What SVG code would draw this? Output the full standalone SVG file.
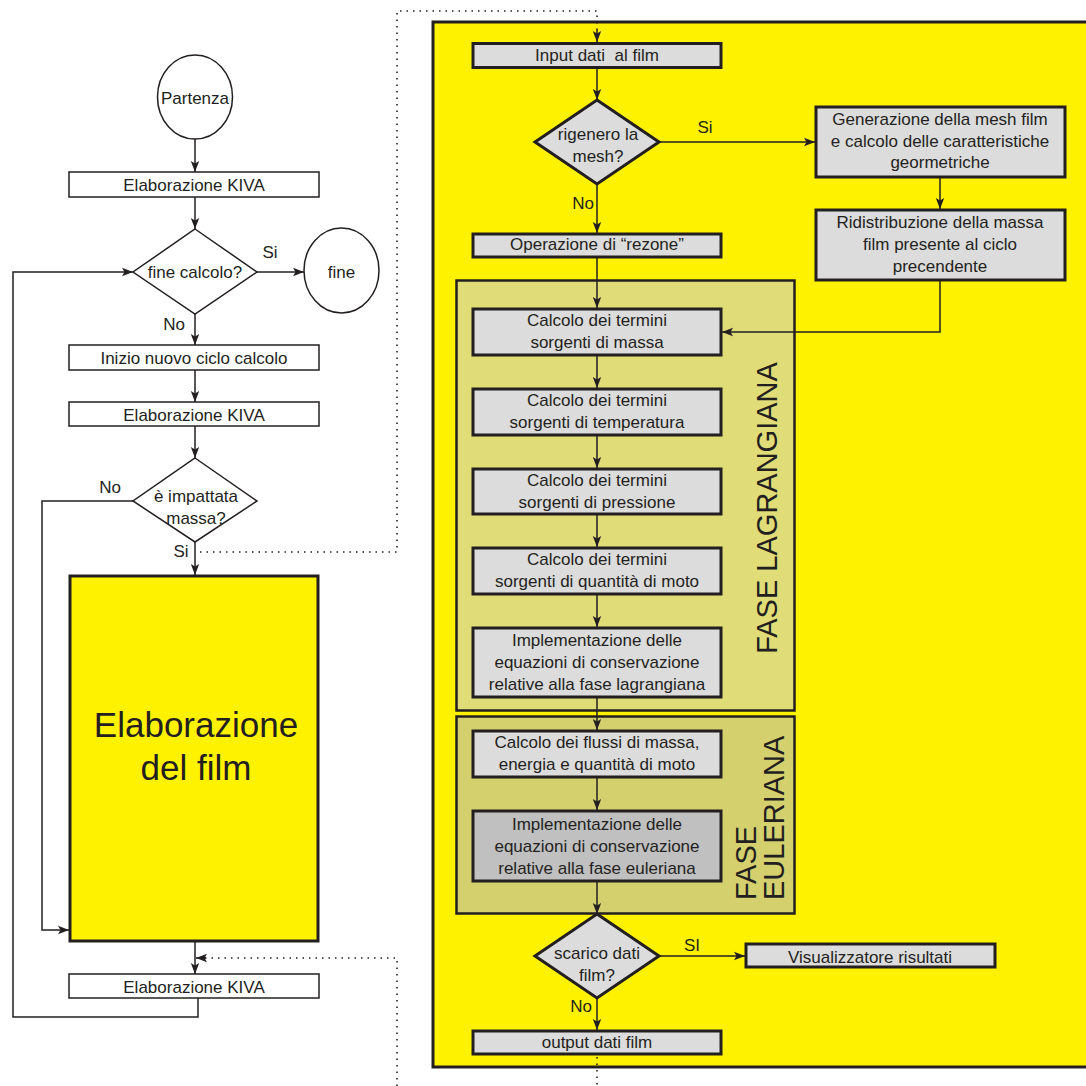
<svg xmlns="http://www.w3.org/2000/svg" width="1086" height="1086" viewBox="0 0 1086 1086">
<defs>
<marker id="ah" markerUnits="userSpaceOnUse" markerWidth="12" markerHeight="10" refX="11" refY="5" orient="auto">
<path d="M0,0.8 L11,5 L0,9.2 L2.5,5 z" fill="#231f20"/>
</marker>
</defs>
<style>
text{font-family:"Liberation Sans",Arial,sans-serif;font-size:17px;fill:#231f20;text-anchor:middle}
.wb{fill:#fff;stroke:#231f20;stroke-width:1.5}
.gb{fill:#dcdcdc;stroke:#231f20;stroke-width:3}
.ln{fill:none;stroke:#231f20;stroke-width:1.5}
.ar{fill:none;stroke:#231f20;stroke-width:1.5;marker-end:url(#ah)}
.dt{fill:none;stroke:#231f20;stroke-width:1.6;stroke-dasharray:1.5 5}
.ph{font-size:29px;text-anchor:middle}
.pre{white-space:pre}
</style>
<rect width="1086" height="1086" fill="#fff"/>

<g id="panel-film">
<rect x="433" y="22" width="660" height="1045" fill="#fff200" stroke="#231f20" stroke-width="3"/>
</g>
<g id="panel-lagrangiana">
<rect x="456.5" y="280.5" width="338" height="430" fill="#e0dc78" stroke="#231f20" stroke-width="2.5"/>
<text class="ph" transform="translate(777,508) rotate(-90)">FASE LAGRANGIANA</text>
</g>
<g id="panel-euleriana">
<rect x="456.5" y="716.5" width="338" height="197" fill="#d5d06e" stroke="#231f20" stroke-width="2.5"/>
<text class="ph" style="text-anchor:start" transform="translate(756,900) rotate(-90)">FASE</text>
<text class="ph" style="text-anchor:start" transform="translate(784,900) rotate(-90)">EULERIANA</text>
</g>

<g id="connectors">
<line class="ar" x1="195" y1="139" x2="195" y2="172"/>
<line class="ar" x1="195" y1="197" x2="195" y2="229"/>
<line class="ar" x1="257" y1="272" x2="304" y2="272"/>
<line class="ar" x1="195" y1="314" x2="195" y2="345"/>
<line class="ar" x1="195" y1="370" x2="195" y2="402"/>
<line class="ar" x1="195" y1="426" x2="195" y2="458"/>
<line class="ar" x1="195" y1="542" x2="195" y2="575"/>
<polyline class="ar" points="133,501 42,501 42,930 69,930"/>
<line class="ar" x1="195" y1="942" x2="195" y2="974"/>
<polyline class="ar" points="198,998 198,1017 13,1017 13,272 133,272"/>
<polyline class="dt" points="200,552 397,552 397,11 597,11 597,32"/>
<line class="ar" x1="597" y1="30" x2="597" y2="42"/>
<polyline class="dt" points="397,1086 397,958 205,958"/>
<line class="ar" x1="206" y1="958" x2="196" y2="958"/>
<line class="dt" x1="597" y1="1057" x2="597" y2="1086"/>

<line class="ar" x1="597" y1="68" x2="597" y2="100"/>
<line class="ar" x1="659" y1="142" x2="815" y2="142"/>
<line class="ar" x1="940" y1="178" x2="940" y2="209"/>
<polyline class="ar" points="940,281 940,332 722,332"/>
<line class="ar" x1="597" y1="184" x2="597" y2="233"/>
<line class="ar" x1="597" y1="258" x2="597" y2="308"/>
<line class="ar" x1="597" y1="356" x2="597" y2="388"/>
<line class="ar" x1="597" y1="436" x2="597" y2="468"/>
<line class="ar" x1="597" y1="515" x2="597" y2="547"/>
<line class="ar" x1="597" y1="595" x2="597" y2="627"/>
<line class="ar" x1="597" y1="698" x2="597" y2="730"/>
<line class="ar" x1="597" y1="778" x2="597" y2="810"/>
<line class="ar" x1="597" y1="882" x2="597" y2="914"/>
<line class="ar" x1="659" y1="956" x2="745" y2="956"/>
<line class="ar" x1="597" y1="998" x2="597" y2="1030"/>
</g>

<g id="labels">
<text x="270" y="258">Si</text>
<text x="174" y="330">No</text>
<text x="110" y="493">No</text>
<text x="181" y="557">Si</text>
<text x="705" y="133">Si</text>
<text x="583" y="209">No</text>
<text x="692" y="951">SI</text>
<text x="581" y="1012">No</text>
</g>

<g id="partenza">
<ellipse class="wb" cx="195" cy="97" rx="37.5" ry="42"/>
<text x="195" y="104">Partenza</text>
</g>
<g id="kiva1">
<rect class="wb" x="69" y="172" width="250" height="25"/>
<text x="194" y="191">Elaborazione KIVA</text>
</g>
<g id="fine-calcolo">
<polygon class="wb" points="195,229 257,272 195,314 133,272"/>
<text x="195" y="278">fine calcolo?</text>
</g>
<g id="fine">
<ellipse class="wb" cx="341.5" cy="270.5" rx="37.5" ry="42.5"/>
<text x="341.5" y="278">fine</text>
</g>
<g id="inizio">
<rect class="wb" x="69" y="345" width="250" height="25"/>
<text x="194" y="364">Inizio nuovo ciclo calcolo</text>
</g>
<g id="kiva2">
<rect class="wb" x="69" y="402" width="250" height="24"/>
<text x="194" y="421">Elaborazione KIVA</text>
</g>
<g id="impattata">
<polygon class="wb" points="195,458 257,501 195,542 133,501"/>
<text x="196" y="502">è impattata</text>
<text x="196" y="524">massa?</text>
</g>
<g id="elab-film">
<rect x="70" y="576" width="248" height="365" fill="#fff200" stroke="#231f20" stroke-width="3"/>
<text x="196" y="737" style="font-size:35px">Elaborazione</text>
<text x="196" y="780" style="font-size:35px">del film</text>
</g>
<g id="kiva3">
<rect class="wb" x="69" y="974" width="250" height="24"/>
<text x="194" y="993">Elaborazione KIVA</text>
</g>

<g id="input">
<rect class="gb" x="473" y="43.5" width="248" height="24"/>
<text class="pre" x="597" y="61" xml:space="preserve">Input dati  al film</text>
</g>
<g id="rigenero">
<polygon class="gb" points="597,100 659,142 597,184 535,142"/>
<text x="598" y="140">rigenero la</text>
<text x="598" y="162">mesh?</text>
</g>
<g id="generazione">
<rect class="gb" x="816" y="107" width="249" height="70"/>
<text x="940" y="125">Generazione della mesh film</text>
<text x="940" y="147">e calcolo delle caratteristiche</text>
<text x="940" y="168">geormetriche</text>
</g>
<g id="ridistribuzione">
<rect class="gb" x="816" y="210" width="249" height="70"/>
<text x="940" y="228">Ridistribuzione della massa</text>
<text x="940" y="250">film presente al ciclo</text>
<text x="940" y="272">precendente</text>
</g>
<g id="rezone">
<rect class="gb" x="473" y="234" width="248" height="23"/>
<text x="597" y="250">Operazione di “rezone”</text>
</g>
<g id="massa">
<rect class="gb" x="473" y="309" width="248" height="46"/>
<text x="597" y="326">Calcolo dei termini</text>
<text x="597" y="348">sorgenti di massa</text>
</g>
<g id="temperatura">
<rect class="gb" x="473" y="389" width="248" height="46"/>
<text x="597" y="406">Calcolo dei termini</text>
<text x="597" y="428">sorgenti di temperatura</text>
</g>
<g id="pressione">
<rect class="gb" x="473" y="469" width="248" height="45"/>
<text x="597" y="486">Calcolo dei termini</text>
<text x="597" y="508">sorgenti di pressione</text>
</g>
<g id="quantita">
<rect class="gb" x="473" y="548" width="248" height="46"/>
<text x="597" y="565">Calcolo dei termini</text>
<text x="597" y="587">sorgenti di quantità di moto</text>
</g>
<g id="impl-lagr">
<rect class="gb" x="473" y="628" width="248" height="69"/>
<text x="597" y="646">Implementazione delle</text>
<text x="597" y="668">equazioni di conservazione</text>
<text x="597" y="690">relative alla fase lagrangiana</text>
</g>
<g id="flussi">
<rect class="gb" x="473" y="731" width="248" height="46"/>
<text x="597" y="748">Calcolo dei flussi di massa,</text>
<text x="597" y="770">energia e quantità di moto</text>
</g>
<g id="impl-eul">
<rect class="gb" x="473" y="811" width="248" height="70" style="fill:#c0c0c0"/>
<text x="597" y="830">Implementazione delle</text>
<text x="597" y="852">equazioni di conservazione</text>
<text x="597" y="874">relative alla fase euleriana</text>
</g>
<g id="scarico">
<polygon class="gb" points="597,914 659,956 597,998 535,956"/>
<text x="597" y="959">scarico dati</text>
<text x="597" y="981">film?</text>
</g>
<g id="visualizzatore">
<rect class="gb" x="746" y="944" width="249" height="23"/>
<text x="870" y="963">Visualizzatore risultati</text>
</g>
<g id="output">
<rect class="gb" x="473" y="1031" width="248" height="23"/>
<text x="597" y="1048">output dati film</text>
</g>
</svg>
